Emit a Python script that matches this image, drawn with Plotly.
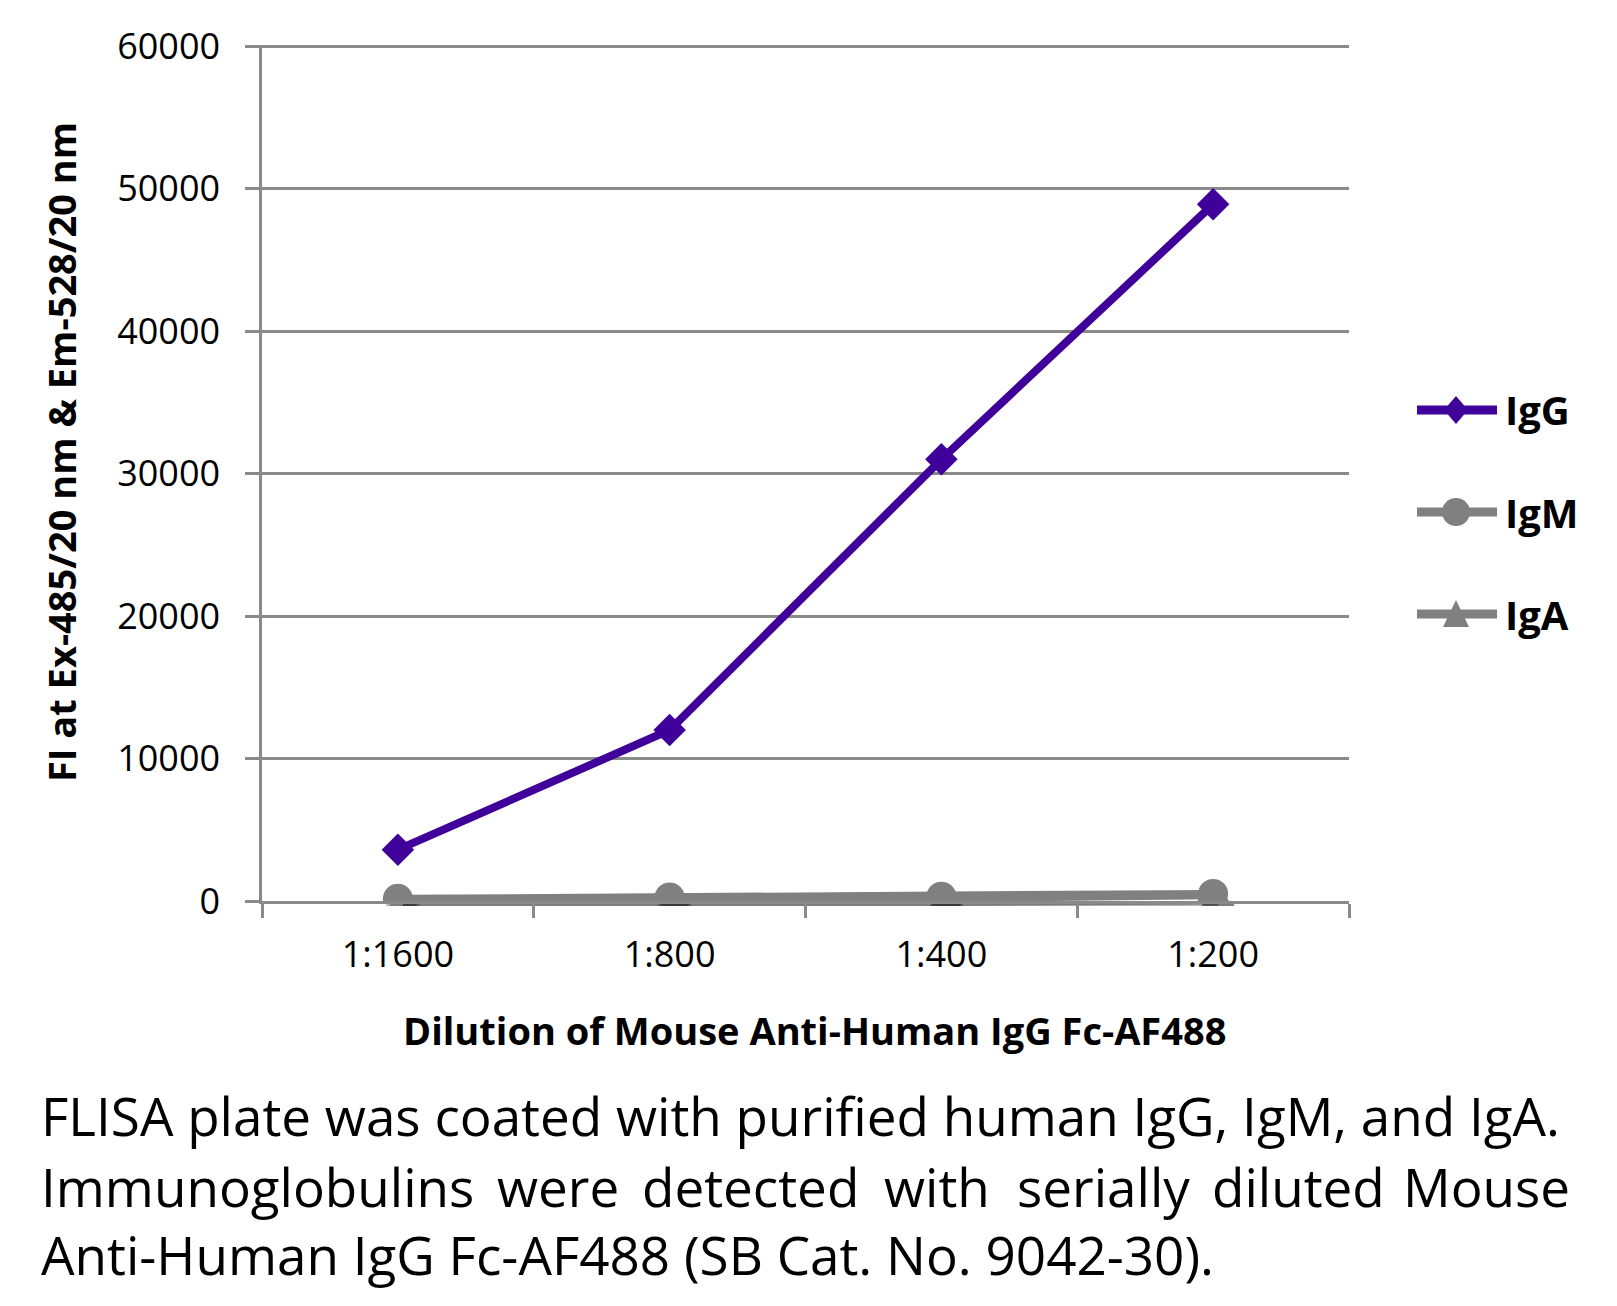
"""
FLISA titration chart: Mouse Anti-Human IgG Fc-AF488 against coated human IgG / IgM / IgA.
Excel-style line chart with drop shadows, gridlines and a justified caption underneath.
"""

import plotly.graph_objects as go

# ----------------------------------------------------------------------
# Data
# ----------------------------------------------------------------------
DILUTIONS = ["1:1600", "1:800", "1:400", "1:200"]
IGG = [3600, 12000, 31000, 48900]
IGM = [150, 250, 300, 500]
IGA = [100, 150, 200, 400]
Y_TICKS = [0, 10000, 20000, 30000, 40000, 50000, 60000]

PURPLE = "#40009a"
GREY = "#808080"
SHADOW = "rgba(0,0,0,0.3)"
AXIS_GREY = "#8a8a8a"
FONT = "Open Sans, sans-serif"

# ----------------------------------------------------------------------
# Geometry. The page body has an 8px margin, so the figure sits at (8, 8)
# in the window. The shadow subplot is the main one shifted right/down.
# ----------------------------------------------------------------------
OFF = 8
WIDTH, HEIGHT = 1617 - OFF, 1306 - OFF
SHIFT = 5
ML, MT = 262 - OFF, 45 - OFF
MR, MB = 1617 - 1349 - SHIFT, 1306 - 901 - SHIFT
PW, PH = WIDTH - ML - MR, HEIGHT - MT - MB


def px_x(px):
    """window pixel -> paper x"""
    return (px - OFF - ML) / PW


def px_y(py):
    """window pixel -> paper y"""
    return (HEIGHT + OFF - MB - py) / PH


fig = go.Figure()

series = [
    ("IgG", IGG, PURPLE, "diamond", 25),
    ("IgA", IGA, GREY, "triangle-up", 30),
    ("IgM", IGM, GREY, "circle", 30),
]

# shadows first (subplot xy, drawn underneath)
for name, vals, color, symbol, size in series:
    fig.add_trace(go.Scatter(
        x=DILUTIONS, y=vals, mode="lines+markers",
        line=dict(color=SHADOW, width=11),
        marker=dict(symbol=symbol, size=size + 3, color=SHADOW),
        showlegend=False, hoverinfo="skip",
        xaxis="x", yaxis="y",
    ))

# real series (subplot x2y2, drawn on top)
for name, vals, color, symbol, size in series:
    fig.add_trace(go.Scatter(
        x=DILUTIONS, y=vals, mode="lines+markers", name=name,
        line=dict(color=color, width=8),
        marker=dict(symbol=symbol, size=size, color=color),
        showlegend=False,
        xaxis="x2", yaxis="y2",
    ))

Y_RANGE = [0, 60080]  # a hair above 60000 so the top gridline is kept

fig.update_layout(
    width=WIDTH, height=HEIGHT,
    margin=dict(l=ML, r=MR, t=MT, b=MB),
    plot_bgcolor="white", paper_bgcolor="white",
    font=dict(family=FONT, size=36, color="black"),
    showlegend=False,
    # shadow axes
    xaxis=dict(domain=[SHIFT / PW, 1], type="category", range=[-0.5, 3.5],
               visible=False, anchor="y"),
    yaxis=dict(domain=[0, 1 - SHIFT / PH], range=Y_RANGE,
               visible=False, anchor="x"),
    # main axes
    xaxis2=dict(domain=[0, 1 - SHIFT / PW], type="category", range=[-0.5, 3.5],
                anchor="y2", showline=True, linecolor=AXIS_GREY, linewidth=2.5,
                ticks="outside", tickson="boundaries", ticklen=14, tickwidth=2.5,
                tickcolor=AXIS_GREY, showgrid=False, ticklabelstandoff=20,
                tickfont=dict(size=36)),
    yaxis2=dict(domain=[SHIFT / PH, 1], range=Y_RANGE, anchor="x2",
                tickvals=Y_TICKS, ticktext=[str(v) for v in Y_TICKS],
                showline=True, linecolor=AXIS_GREY, linewidth=2.5,
                ticks="outside", ticklen=14, tickwidth=2.5, tickcolor=AXIS_GREY,
                showgrid=True, gridcolor=AXIS_GREY, gridwidth=2.5,
                zeroline=False, ticklabelstandoff=18,
                tickfont=dict(size=36)),
)

# ----------------------------------------------------------------------
# Legend drawn by hand (plotly caps legend marker sizes)
# ----------------------------------------------------------------------
LEGEND = [("IgG", PURPLE, "diamond", 410), ("IgM", GREY, "circle", 512),
          ("IgA", GREY, "triangle", 614)]
LX0, LX1, LXM, LTEXT = 1417, 1497, 1456, 1503

for label, color, kind, ly in LEGEND:
    fig.add_shape(type="line", xref="paper", yref="paper",
                  x0=px_x(LX0), x1=px_x(LX1), y0=px_y(ly), y1=px_y(ly),
                  line=dict(color=color, width=9))
    if kind == "diamond":
        path = (f"M {px_x(LXM)},{px_y(ly - 14)} L {px_x(LXM + 12)},{px_y(ly)} "
                f"L {px_x(LXM)},{px_y(ly + 14)} L {px_x(LXM - 12)},{px_y(ly)} Z")
        fig.add_shape(type="path", path=path, xref="paper", yref="paper",
                      fillcolor=color, line=dict(width=0))
    elif kind == "circle":
        fig.add_shape(type="circle", xref="paper", yref="paper",
                      x0=px_x(LXM - 14), x1=px_x(LXM + 14),
                      y0=px_y(ly + 14), y1=px_y(ly - 14),
                      fillcolor=color, line=dict(width=0))
    else:
        path = (f"M {px_x(LXM)},{px_y(ly - 14)} L {px_x(LXM + 13)},{px_y(ly + 13)} "
                f"L {px_x(LXM - 13)},{px_y(ly + 13)} Z")
        fig.add_shape(type="path", path=path, xref="paper", yref="paper",
                      fillcolor=color, line=dict(width=0))
    fig.add_annotation(text=f"<b>{label}</b>", xref="paper", yref="paper",
                       x=px_x(LTEXT), y=px_y(ly), xanchor="left", yanchor="middle",
                       showarrow=False, font=dict(size=40))

# axis titles
fig.add_annotation(
    text="<b>FI at Ex-485/20 nm & Em-528/20 nm</b>", textangle=-90,
    xref="paper", yref="paper", x=px_x(61), y=px_y(452),
    xanchor="center", yanchor="middle", showarrow=False,
    font=dict(size=38),
)
fig.add_annotation(
    text="<b>Dilution of Mouse Anti-Human IgG Fc-AF488</b>",
    xref="paper", yref="paper", x=px_x(814), y=px_y(1030),
    xanchor="center", yanchor="middle", showarrow=False,
    font=dict(size=38),
)

# caption: line 1 and 3 left aligned, line 2 justified word by word
CAPTION_1 = "FLISA plate was coated with purified human IgG, IgM, and IgA."
CAPTION_2 = ["Immunoglobulins", "were", "detected", "with", "serially", "diluted", "Mouse"]
CAPTION_2_X = [39, 558, 750, 937, 1103, 1298, 1572]
CAPTION_3 = "Anti-Human IgG Fc-AF488 (SB Cat. No. 9042-30)."
cap_font = dict(size=53)

fig.add_annotation(text=CAPTION_1, xref="paper", yref="paper",
                   x=px_x(39), y=px_y(1115), xanchor="left", yanchor="middle",
                   showarrow=False, font=cap_font)
for i, (word, xp) in enumerate(zip(CAPTION_2, CAPTION_2_X)):
    anchor = "left" if i == 0 else ("right" if i == len(CAPTION_2) - 1 else "center")
    fig.add_annotation(text=word, xref="paper", yref="paper",
                       x=px_x(xp), y=px_y(1186), xanchor=anchor, yanchor="middle",
                       showarrow=False, font=cap_font)
fig.add_annotation(text=CAPTION_3, xref="paper", yref="paper",
                   x=px_x(39), y=px_y(1254), xanchor="left", yanchor="middle",
                   showarrow=False, font=cap_font)

fig.write_html("out.html")
